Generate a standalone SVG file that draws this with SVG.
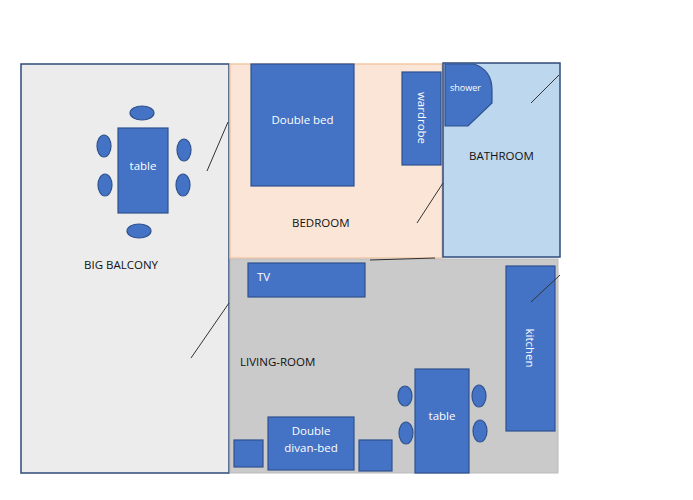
<svg xmlns="http://www.w3.org/2000/svg" width="693" height="500" viewBox="0 0 693 500">
<style>
.f{fill:#4472c4;stroke:#2f528f;stroke-width:1.2}
.r{stroke:#2f4a7a;stroke-width:1.5}
.l{stroke:#333;stroke-width:1}
text{font-family:"Open Sans","Liberation Sans",sans-serif;font-size:11.5px}
.w{fill:#fff}
.k{fill:#111}
</style>
<rect width="693" height="500" fill="#fff"/>
<g id="balcony"><rect class="r" x="21" y="64" width="208" height="409" fill="#ececec"/><text class="k" x="84" y="269">BIG BALCONY</text></g>
<g id="bedroom"><rect x="230" y="64" width="212" height="194" fill="#fbe5d6" stroke="#f4c7a5" stroke-width="1.5"/><text class="k" x="292" y="227">BEDROOM</text></g>
<g id="bathroom"><rect class="r" x="443" y="63" width="117" height="194" fill="#bdd7ee"/><text class="k" x="469" y="160">BATHROOM</text></g>
<g id="living"><rect x="230" y="259" width="328" height="214" fill="#cacaca" stroke="#bbb"/><text class="k" x="240" y="366">LIVING-ROOM</text></g>
<g id="bed"><rect class="f" x="251" y="64" width="103" height="122"/><text class="w" x="302.5" y="124" text-anchor="middle">Double bed</text></g>
<g id="wardrobe"><rect class="f" x="402" y="72" width="39" height="93"/><text class="w" x="0" y="0" text-anchor="middle" transform="translate(418,118) rotate(90)">wardrobe</text></g>
<g id="shower"><path class="f" d="M445,64H474Q492,70 492,90V103L468,126H445Z"/><text class="w" x="450" y="91" font-size="9" style="font-size:9px">shower</text></g>
<g id="tv"><rect class="f" x="248" y="263" width="117" height="34"/><text class="w" x="257" y="281">TV</text></g>
<g id="kitchen"><rect class="f" x="506" y="266" width="49" height="165"/><text class="w" text-anchor="middle" transform="translate(526,348) rotate(90)">kitchen</text></g>
<g id="ltable"><rect class="f" x="415" y="369" width="54" height="104"/><text class="w" x="442" y="420" text-anchor="middle">table</text>
<ellipse class="f" cx="405" cy="396" rx="7" ry="10"/><ellipse class="f" cx="406" cy="433" rx="7" ry="11"/><ellipse class="f" cx="479" cy="396" rx="7" ry="11"/><ellipse class="f" cx="480" cy="431" rx="7" ry="11"/></g>
<g id="divan"><rect class="f" x="268" y="417" width="86" height="53"/><text class="w" x="311" y="435" text-anchor="middle">Double</text><text class="w" x="311" y="452" text-anchor="middle">divan-bed</text></g>
<g id="box1"><rect class="f" x="234" y="440" width="29" height="27"/></g>
<g id="box2"><rect class="f" x="359" y="440" width="33" height="31"/></g>
<g id="btable"><rect class="f" x="118" y="128" width="50" height="85"/><text class="w" x="143" y="170" text-anchor="middle">table</text>
<ellipse class="f" cx="142" cy="113" rx="12" ry="7"/><ellipse class="f" cx="139" cy="231" rx="12" ry="7"/><ellipse class="f" cx="104" cy="146" rx="7" ry="11"/><ellipse class="f" cx="105" cy="185" rx="7" ry="11"/><ellipse class="f" cx="184" cy="150" rx="7" ry="11"/><ellipse class="f" cx="183" cy="185" rx="7" ry="11"/></g>
<g id="connectors">
<line class="l" x1="531" y1="103" x2="559" y2="75"/>
<line class="l" x1="417" y1="223" x2="443" y2="183"/>
<line class="l" x1="207" y1="171" x2="228" y2="122"/>
<line class="l" x1="191" y1="358" x2="229" y2="303"/>
<line class="l" x1="531" y1="302" x2="560" y2="275"/>
<line class="l" x1="370" y1="260" x2="435" y2="258"/>
</g>
</svg>
